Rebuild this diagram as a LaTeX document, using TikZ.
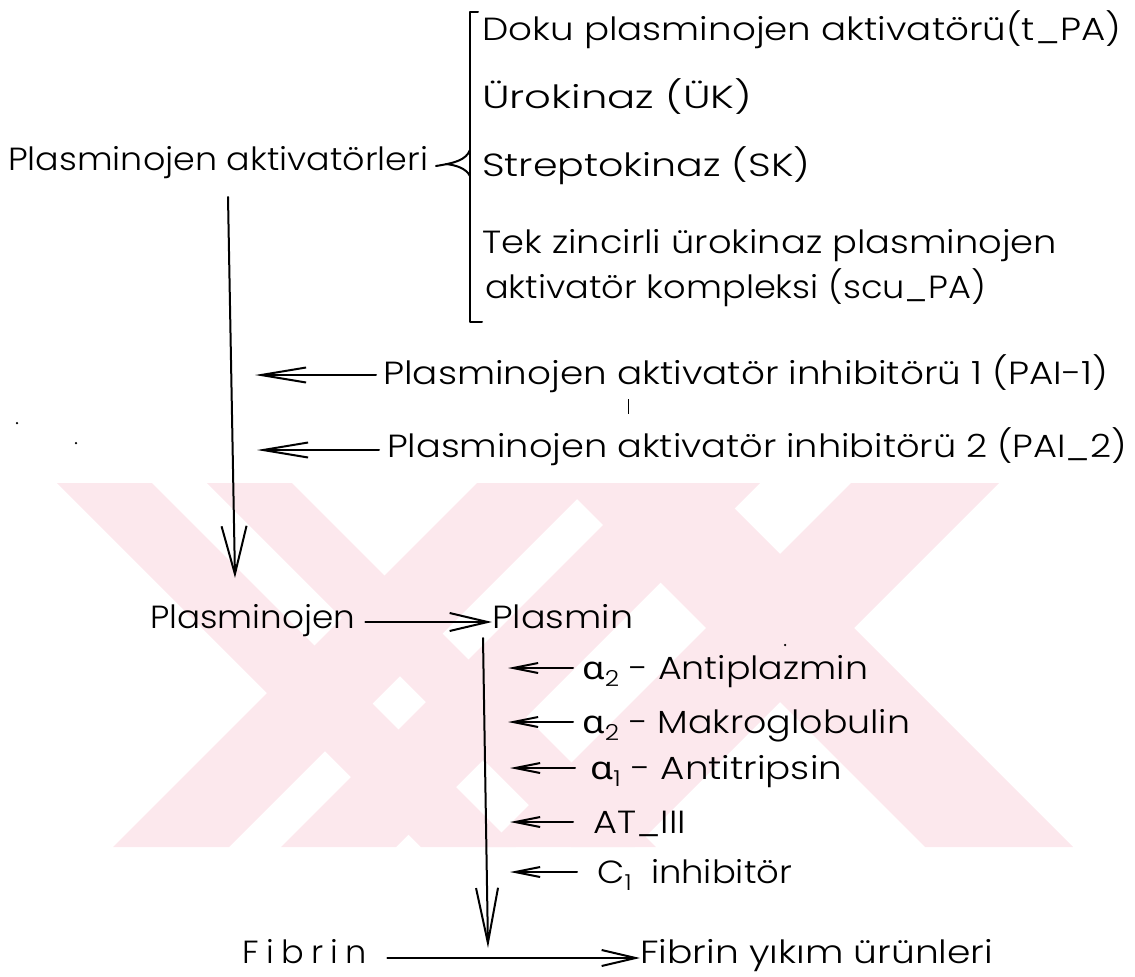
\documentclass[tikz,border=0pt]{standalone}
\usepackage{fontspec}
\usepackage{graphicx}
\setmainfont{Poppins Light}
\newfontfamily\grk{Noto Sans}
\usetikzlibrary{arrows.meta}
\definecolor{wm}{RGB}{252,232,237}
\newcommand\fitw[2]{\resizebox{#1pt}{\height}{#2}}
\newcommand\alp[1]{{\grk α}\raisebox{-7pt}{\fontsize{22}{22}\selectfont #1}}
\tikzset{
  txt/.style={anchor=base west, inner sep=0pt, font=\fontsize{32}{38}\selectfont},
  ln/.style={line width=2pt, line cap=round, line join=round},
  bigv/.style={ln, -{Straight Barb[length=48pt,width=25pt,line width=2pt]}},
  paiar/.style={ln, -{Straight Barb[length=45pt,width=15pt,line width=2pt]}},
  smallar/.style={ln, -{Straight Barb[length=25pt,width=10pt,line width=2pt]}},
  horar/.style={ln, -{Straight Barb[length=38pt,width=18pt,line width=2pt]}},
  speck/.style={fill=black, circle, inner sep=0pt, minimum size=2.5pt},
}
\begin{document}
\begin{tikzpicture}[x=1pt,y=-1pt]
\useasboundingbox (0,0) rectangle (1135,977);
% watermark
\begin{scope}
\clip (0,483) rectangle (1135,847);
\fill[wm] (57,483) -- (152,483) -- (516,847) -- (421,847) -- cycle;
\fill[wm] (207,483) -- (292,483) -- (656,847) -- (571,847) -- cycle;
\fill[wm] (477,483) -- (593,483) -- (229,847) -- (113,847) -- cycle;
\fill[wm] (645,483) -- (760,483) -- (396,847) -- (281,847) -- cycle;
\fill[wm] (561,483) -- (709,483) -- (1073,847) -- (925,847) -- cycle;
\fill[wm] (851,483) -- (999,483) -- (635,847) -- (487,847) -- cycle;
\end{scope}

% top block
\node[txt] (pa) at (8,170) {\fitw{420}{Plasminojen aktivatörleri}};
\node[txt] (doku) at (482,40) {\fitw{639}{Doku plasminojen aktivatörü(t\_PA)}};
\node[txt] (uk) at (482,108) {\fitw{270}{Ürokinaz (ÜK)}};
\node[txt] (sk) at (482,176) {\fitw{328}{Streptokinaz (SK)}};
\node[txt] (tek) at (482,253) {\fitw{575}{Tek zincirli ürokinaz plasminojen}};
\node[txt] (scu) at (485,298) {\fitw{501}{aktivatör kompleksi (scu\_PA)}};
% bracket
\draw[ln] (478,12) -- (470,12) -- (470,322) -- (482,322);
\draw[ln] (470,150) .. controls (466,160) and (455,163) .. (436,166);
\draw[ln] (470,176) .. controls (466,168) and (455,165) .. (446,164);

% PAI
\node[txt] (pai1) at (383,384) {\fitw{725}{Plasminojen aktivatör inhibitörü 1 (PAI-1)}};
\node[txt] (pai2) at (387,457) {\fitw{740}{Plasminojen aktivatör inhibitörü 2 (PAI\_2)}};
\coordinate (a1s) at (376,375); \coordinate (a1e) at (255,375);
\coordinate (a2s) at (379,450); \coordinate (a2e) at (257,450);
\draw[paiar] (a1s) -- (a1e);
\draw[paiar] (a2s) -- (a2e);
\draw[line width=1pt] (628,399) -- (628,414);

% main arrow 1
\coordinate (v1s) at (228,197);
\coordinate (v1e) at (235,578);
\draw[bigv] (v1s) -- (v1e);

% middle
\node[txt] (plg) at (150,628) {\fitw{205}{Plasminojen}};
\node[txt] (pls) at (492,628) {\fitw{141}{Plasmin}};
\draw[horar] (plg.east |- 0,622) ++(10,0) coordinate (h1s) -- (pls.west |- 0,622);

\node[txt] (ap) at (582,679) {\fitw{286}{\alp{2} - Antiplazmin}};
\node[txt] (mg) at (582,733) {\fitw{328}{\alp{2} - Makroglobulin}};
\node[txt] (atr) at (590,779) {\fitw{252}{\alp{1} - Antitripsin}};
\node[txt] (at3) at (593,833) {\fitw{93}{AT\_III}};
\node[txt] (c1) at (597,883) {\fitw{195}{C\raisebox{-7pt}{\fontsize{22}{22}\selectfont 1}\ \ inhibitör}};

\coordinate (i1s) at (573,668); \coordinate (i1e) at (508,668);
\coordinate (i2s) at (573,722); \coordinate (i2e) at (508,722);
\coordinate (i3s) at (575,768); \coordinate (i3e) at (510,768);
\coordinate (i4s) at (573,822); \coordinate (i4e) at (510,822);
\coordinate (i5s) at (577,872); \coordinate (i5e) at (510,872);
\foreach \k in {1,...,5} \draw[smallar] (i\k s) -- (i\k e);

% main arrow 2
\coordinate (v2s) at (483,638);
\coordinate (v2e) at (488,948);
\draw[ln, -{Straight Barb[length=55pt,width=22pt,line width=2pt]}] (v2s) -- (v2e);

% bottom
\node[txt] (fib) at (242,963) {\fitw{125}{\addfontfeature{LetterSpace=22}Fibrin}};
\node[txt] (fyu) at (640,963) {\fitw{353}{Fibrin yıkım ürünleri}};
\draw[ln, -{Straight Barb[length=34pt,width=16pt,line width=2pt]}] (fib.east |- 0,958) ++(20,0) -- (fyu.west |- 0,958);

% scan specks
\node[speck] (s1) at (17,423) {};
\node[speck] (s2) at (76,443) {};
\node[speck] (s3) at (785,645) {};
\end{tikzpicture}
\end{document}
